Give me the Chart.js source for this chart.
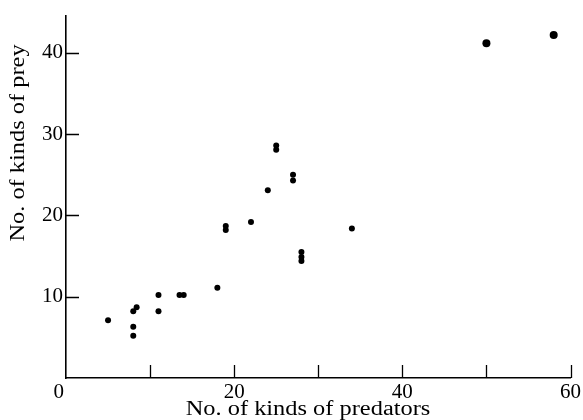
<!DOCTYPE html>
<html>
<head>
<meta charset="UTF-8">
<title>Predators vs prey</title>
<script src="https://cdn.jsdelivr.net/npm/chart.js@4/dist/chart.umd.min.js"></script>
<style>
  body { margin: 0; background: #fff; }
</style>
</head>
<body>
<canvas id="c" width="583" height="420"></canvas>
<script>
// kinds of predators (x) and kinds of prey (y)
const predators = [5, 8, 8, 8, 8.4, 11, 11, 13.5, 14, 18, 19, 19, 22, 24, 25, 25, 27, 27, 28, 28, 28, 34, 50, 58];
const prey      = [7.1, 6.3, 5.2, 8.2, 8.7, 10.2, 8.2, 10.2, 10.2, 11.1, 18.7, 18.2, 19.2, 23.1, 28.6, 28.1, 25, 24.3, 15.5, 14.9, 14.4, 18.4, 41.2, 42.2];
const xTicks = [0, 10, 20, 30, 40, 50, 60];
const xLabels = {0: '0\u2002\u2009', 20: '20', 40: '40', 60: '60'};
const yTicks = [10, 20, 30, 40];
const xTitle = 'No. of kinds of predators';
const yTitle = 'No. of kinds of prey';

const serif = "'Liberation Serif', 'DejaVu Serif', serif";

const points = predators.map((x, i) => ({x: x, y: prey[i]}));
const radii = predators.map(x => x >= 50 ? 4 : 3);

// tick marks pointing into the plot, plus the axis titles
const inwardTicks = {
  id: 'inwardTicks',
  afterDraw(chart) {
    const ctx = chart.ctx;
    const xs = chart.scales.x, ys = chart.scales.y;
    const area = chart.chartArea;
    ctx.save();
    ctx.strokeStyle = '#000';
    ctx.lineWidth = 1.3;
    ctx.beginPath();
    xTicks.forEach(v => {
      if (v === 0) return;
      const px = Math.round(xs.getPixelForValue(v)) + 0.5;
      ctx.moveTo(px, area.bottom);
      ctx.lineTo(px, area.bottom - 13);
    });
    yTicks.forEach(v => {
      const py = Math.round(ys.getPixelForValue(v)) + 0.5;
      ctx.moveTo(area.left, py);
      ctx.lineTo(area.left + 13, py);
    });
    ctx.stroke();
    ctx.restore();

    // titles: the printed face is wider than Times, so stretch it a bit
    ctx.save();
    ctx.fillStyle = '#000';
    ctx.font = '20px ' + serif;
    ctx.textAlign = 'center';
    ctx.textBaseline = 'middle';
    ctx.translate(308, 410);
    ctx.scale(1.22, 1);
    ctx.fillText(xTitle, 0, 0);
    ctx.restore();

    ctx.save();
    ctx.fillStyle = '#000';
    ctx.font = '20px ' + serif;
    ctx.textAlign = 'center';
    ctx.textBaseline = 'middle';
    ctx.translate(19, 143);
    ctx.rotate(-Math.PI / 2);
    ctx.scale(1.22, 1);
    ctx.fillText(yTitle, 0, 0);
    ctx.restore();
  }
};

new Chart(document.getElementById('c'), {
  type: 'scatter',
  data: {
    datasets: [{
      data: points,
      backgroundColor: '#000',
      borderWidth: 0,
      pointRadius: radii,
      pointHoverRadius: radii
    }]
  },
  options: {
    responsive: false,
    animation: false,
    layout: { padding: { top: 12, right: 11, left: 0, bottom: 0 } },
    plugins: { legend: { display: false }, tooltip: { enabled: false } },
    scales: {
      x: {
        type: 'linear',
        min: 0,
        max: 60,
        afterFit(scale) { scale.height = 42; },
        afterBuildTicks(scale) { scale.ticks = xTicks.map(v => ({value: v})); },
        grid: { display: true, drawOnChartArea: false, drawTicks: false },
        border: { display: true, color: '#000', width: 1.6 },
        ticks: {
          color: '#000',
          padding: 2,
          maxRotation: 0,
          autoSkip: false,
          font: { family: serif, size: 21 },
          callback: v => xLabels[v] !== undefined ? xLabels[v] : ''
        }
      },
      y: {
        type: 'linear',
        min: 0,
        max: 44.6,
        afterFit(scale) { scale.width = 66; },
        afterBuildTicks(scale) { scale.ticks = yTicks.map(v => ({value: v})); },
        grid: { display: true, drawOnChartArea: false, drawTicks: false },
        border: { display: true, color: '#000', width: 1.6 },
        ticks: {
          color: '#000',
          padding: 3,
          autoSkip: false,
          font: { family: serif, size: 21 }
        }
      }
    }
  },
  plugins: [inwardTicks]
});
</script>
</body>
</html>
